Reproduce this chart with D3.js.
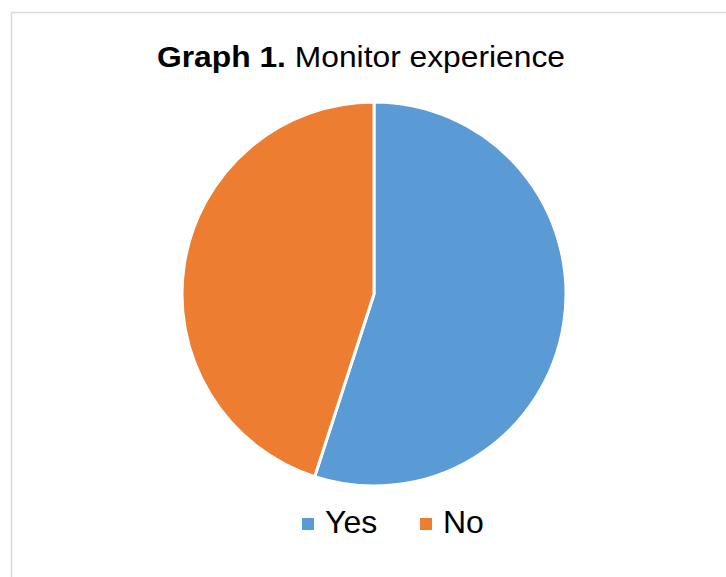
<!DOCTYPE html>
<meta charset="utf-8">
<style>
    body { margin: 0; background: #fff; }
    text { font-family: Arial, "Liberation Sans", sans-serif; fill: #000; }
</style>
<svg id="mainSVG" width="726" height="577"></svg>
<script src="https://d3js.org/d3.v7.min.js"></script>
<script>
    var categories = ["Yes", "No"];
    var values = [55, 45];
    var colors = ["#5B9BD5", "#ED7D31"];

    var svg = d3.select("#mainSVG"),
        width = +svg.attr("width"),
        height = +svg.attr("height");

    // chart frame
    svg.append("rect")
        .attr("x", 11.5).attr("y", 12.5)
        .attr("width", width).attr("height", height)
        .attr("fill", "#fff")
        .attr("stroke", "#d9d9d9")
        .attr("stroke-width", 1.5);

    // title is a bit wide in the original, stretch to fit
    var title = svg.append("text")
        .attr("x", 157).attr("y", 67)
        .attr("textLength", 408)
        .attr("lengthAdjust", "spacingAndGlyphs")
        .style("font-size", "29px");
    title.append("tspan").style("font-weight", "bold").text("Graph 1.");
    title.append("tspan").text(" Monitor experience");

    var color = d3.scaleOrdinal().domain(categories).range(colors);

    var pie = d3.pie().sort(null).value(function (d) { return d.value; });
    var arc = d3.arc().innerRadius(0).outerRadius(192);

    var data = categories.map(function (c, i) { return { label: c, value: values[i] }; });

    svg.append("g")
        .attr("transform", "translate(374,294)")
        .selectAll("path")
        .data(pie(data))
        .enter().append("path")
        .attr("d", arc)
        .attr("fill", function (d) { return color(d.data.label); })
        .attr("stroke", "#fff")
        .attr("stroke-width", 3);

    var legendX = [302, 420];
    var legend = svg.append("g")
        .selectAll("g")
        .data(categories)
        .enter().append("g")
        .attr("transform", function (d, i) { return "translate(" + legendX[i] + ",518)"; });

    legend.append("rect")
        .attr("width", 12).attr("height", 12)
        .attr("fill", function (d) { return color(d); });

    legend.append("text")
        .attr("x", 23).attr("y", 15)
        .style("font-size", "32px")
        .text(function (d) { return d; });
</script>
